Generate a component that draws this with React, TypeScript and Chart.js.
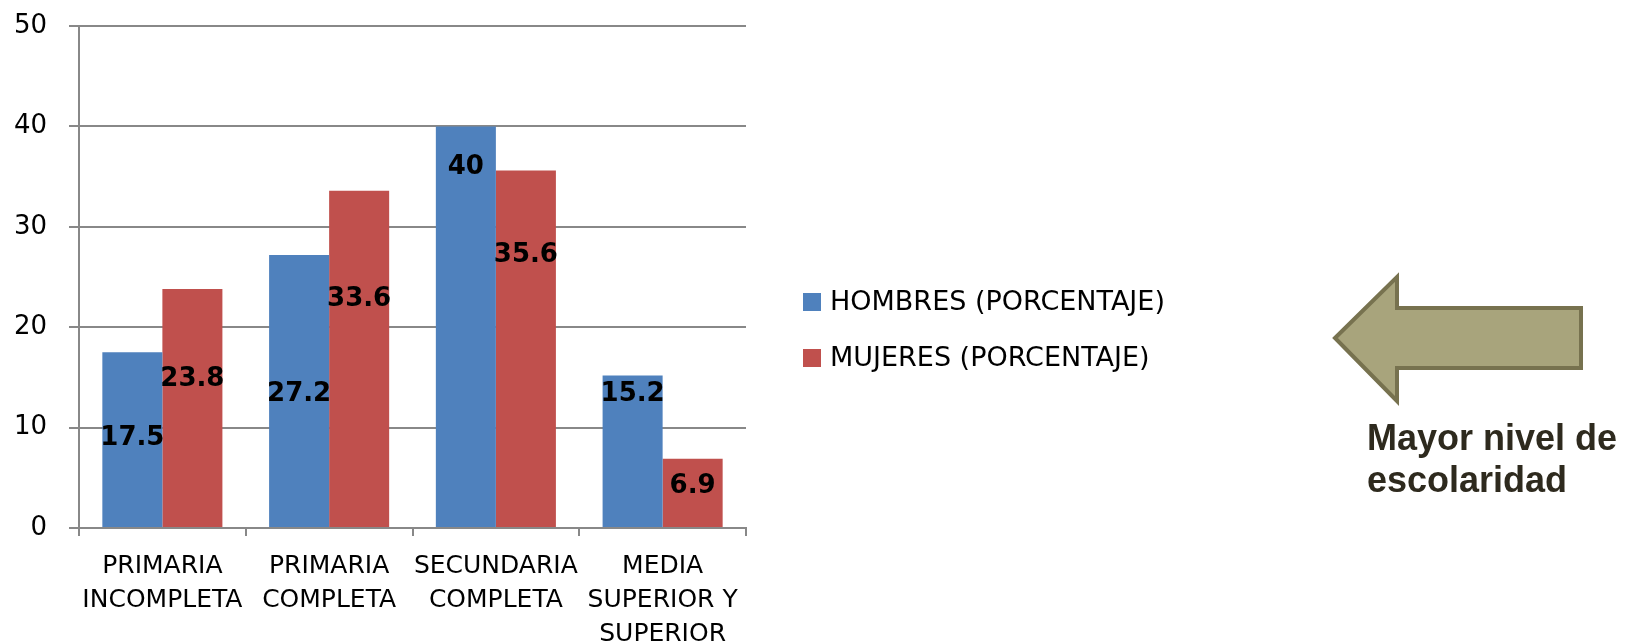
import React, { useEffect, useRef } from "react";
import { Chart, registerables } from "chart.js";

Chart.register(...registerables);

const categories: string[][] = [
  ["PRIMARIA", "INCOMPLETA"],
  ["PRIMARIA", "COMPLETA"],
  ["SECUNDARIA", "COMPLETA"],
  ["MEDIA", "SUPERIOR Y", "SUPERIOR"],
];
const seriesNames = ["HOMBRES (PORCENTAJE)", "MUJERES (PORCENTAJE)"];
const hombres = [17.5, 27.2, 40, 15.2];
const mujeres = [23.8, 33.6, 35.6, 6.9];
// value (in axis units) at which each data label sits
const hombresLabelAt = [8.9, 13.3, 35.9, 13.3];
const mujeresLabelAt = [14.8, 22.8, 27.2, 4.2];
const yTickValues = [0, 10, 20, 30, 40, 50];
const noteLines = ["Mayor nivel de", "escolaridad"];

const BLUE = "#4f81bd";
const RED = "#c0504d";
const GRID = "#888888";

const W = 1629;
const H = 644;

const valueLabels = {
  id: "valueLabels",
  afterDatasetsDraw(chart: any) {
    const ctx = chart.ctx;
    const ys = chart.scales.y;
    const anchors = [hombresLabelAt, mujeresLabelAt];
    ctx.save();
    ctx.font = "bold 26px 'DejaVu Sans'";
    ctx.fillStyle = "#000000";
    ctx.textAlign = "center";
    ctx.textBaseline = "middle";
    anchors.forEach((arr, di) => {
      const meta = chart.getDatasetMeta(di);
      meta.data.forEach((bar: any, i: number) => {
        ctx.fillText(String(chart.data.datasets[di].data[i]), bar.x, ys.getPixelForValue(arr[i]));
      });
    });
    ctx.restore();
  },
};

const sideDecor = {
  id: "sideDecor",
  afterDraw(chart: any) {
    const ctx = chart.ctx;
    ctx.save();
    // legend
    const rows = [302, 358];
    chart.data.datasets.forEach((ds: any, i: number) => {
      const cy = rows[i];
      ctx.fillStyle = ds.backgroundColor;
      ctx.fillRect(803, cy - 9, 18, 18);
      ctx.fillStyle = "#000000";
      ctx.font = "27px 'DejaVu Sans'";
      ctx.textAlign = "left";
      ctx.textBaseline = "middle";
      ctx.fillText(ds.label, 830, cy + 1);
    });
    // arrow
    ctx.beginPath();
    ctx.moveTo(1335, 338);
    ctx.lineTo(1397, 277);
    ctx.lineTo(1397, 308);
    ctx.lineTo(1581, 308);
    ctx.lineTo(1581, 368);
    ctx.lineTo(1397, 368);
    ctx.lineTo(1397, 401);
    ctx.closePath();
    ctx.fillStyle = "#a8a47c";
    ctx.fill();
    ctx.lineWidth = 4;
    ctx.strokeStyle = "#77724f";
    ctx.lineJoin = "miter";
    ctx.stroke();
    // note text
    ctx.fillStyle = "#2e2a1e";
    ctx.font = "bold 36px 'Liberation Sans'";
    ctx.textAlign = "left";
    ctx.textBaseline = "alphabetic";
    ctx.fillText(noteLines[0], 1367, 450);
    ctx.fillText(noteLines[1], 1367, 492);
    ctx.restore();
  },
};

export default function App() {
  const ref = useRef<HTMLCanvasElement | null>(null);
  useEffect(() => {
    if (!ref.current) return;
    const chart = new Chart(ref.current, {
      type: "bar",
      data: {
        labels: categories,
        datasets: [
          { label: seriesNames[0], data: hombres, backgroundColor: BLUE, categoryPercentage: 0.72, barPercentage: 1 },
          { label: seriesNames[1], data: mujeres, backgroundColor: RED, categoryPercentage: 0.72, barPercentage: 1 },
        ],
      },
      options: {
        responsive: false,
        animation: false,
        events: [],
        layout: { padding: { top: 26, right: W - 746, bottom: 0, left: 0 } },
        plugins: { legend: { display: false }, tooltip: { enabled: false } },
        scales: {
          x: {
            offset: true,
            grid: { display: true, drawOnChartArea: false, drawTicks: true, tickLength: 8, color: GRID, lineWidth: 2, offset: true },
            border: { display: true, color: GRID, width: 2 },
            ticks: {
              color: "#000000",
              font: { family: "'DejaVu Sans'", size: 25, lineHeight: 1.36 },
              padding: 13,
              maxRotation: 0,
              autoSkip: false,
            },
            afterFit(scale: any) {
              scale.height = H - 528;
              scale.paddingLeft = 0;
              scale.paddingRight = 0;
              scale.paddingTop = 0;
              scale.paddingBottom = 0;
            },
          },
          y: {
            min: 0,
            max: 50,
            afterBuildTicks(scale: any) {
              scale.ticks = yTickValues.map((v) => ({ value: v }));
            },
            grid: { color: GRID, lineWidth: 2, drawTicks: true, tickLength: 10 },
            border: { display: true, color: GRID, width: 2 },
            ticks: {
              color: "#000000",
              font: { family: "'DejaVu Sans'", size: 26 },
              padding: 22,
            },
            afterFit(scale: any) {
              scale.width = 79;
              scale.paddingTop = 0;
              scale.paddingBottom = 0;
              scale.paddingLeft = 0;
              scale.paddingRight = 0;
            },
          },
        },
      },
      plugins: [valueLabels, sideDecor],
    });
    return () => chart.destroy();
  }, []);
  return (
    <div style={{ position: "fixed", left: 0, top: 0, width: W, height: H, background: "#ffffff" }}>
      <canvas ref={ref} width={W} height={H} style={{ display: "block", width: W, height: H }} />
    </div>
  );
}
